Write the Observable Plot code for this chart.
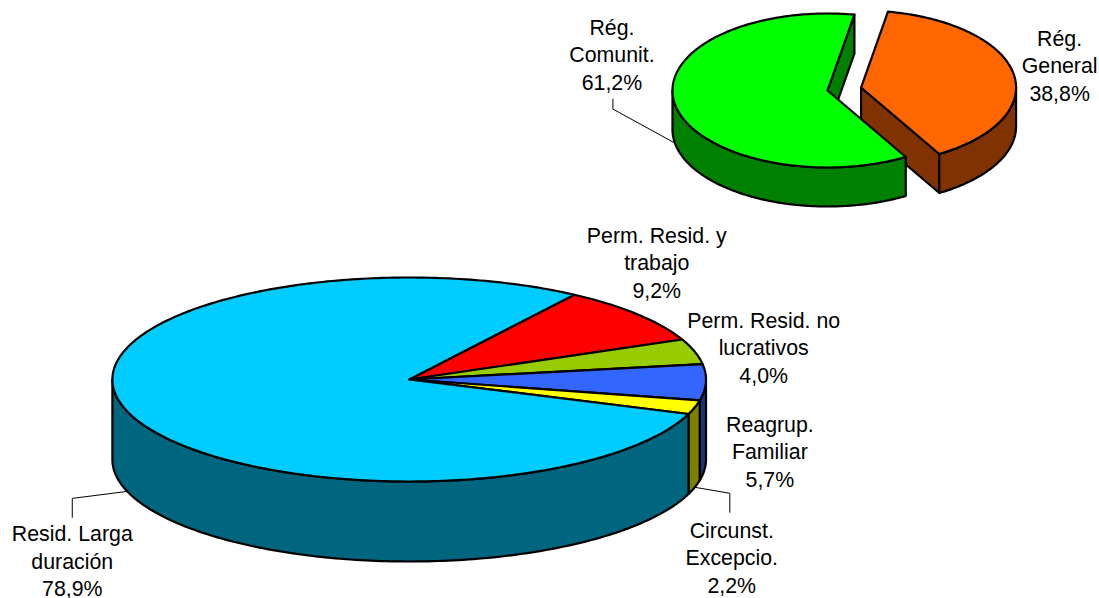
<!DOCTYPE html>
<html>
<head>
<meta charset="utf-8">
<script src="https://cdn.jsdelivr.net/npm/d3@7"></script>
<script src="https://cdn.jsdelivr.net/npm/@observablehq/plot@0.6"></script>
<style>html,body{margin:0;padding:0;background:#fff}svg{display:block}</style>
</head>
<body>
<div id="chart"></div>
<script>
// Lower pie (values in %, clockwise from its start angle)
const lowerLabels = ["Perm. Resid. y\ntrabajo", "Perm. Resid. no\nlucrativos", "Reagrup.\nFamiliar", "Circunst.\nExcepcio.", "Resid. Larga\nduración"];
const lowerValues = [9.2, 4.0, 5.7, 2.2, 78.9];
const lowerTops = ["#FF0000", "#99CC00", "#3366FF", "#FFFF00", "#00CCFF"];
const lowerSides = ["#800000", "#4C6600", "#1A3380", "#808000", "#006680"];
const lowerLabelShift = [[19, -53], [69, -5], [64, 68], [37, 149], [-55, 148.5]];
// Upper pie
const upperLabels = ["Rég.\nGeneral", "Rég.\nComunit."];
const upperValues = [38.8, 61.2];
const upperTops = ["#FF6600", "#00FF00"];
const upperSides = ["#803300", "#008000"];
const upperExplode = [0.22, 0];
const upperLabelShift = [[46, -9.5], [-63, -50.5]];

const lowerPie = {cx: 408.7, cy: 379, rx: 296.8, ry: 102, depth: 80, start: 33.8};
const upperPie = {cx: 827, cy: 90, rx: 155, ry: 77, depth: 39, start: 10};

const fmt = v => v.toFixed(1).replace(".", ",") + "%";

function slices(pie, labels, values, tops, sides, shifts, explode) {
  let a = pie.start;
  return values.map((v, i) => {
    const a0 = a, a1 = a + v * 3.6; a = a1;
    const mid = (a0 + a1) / 2, mr = mid * Math.PI / 180;
    const e = explode ? explode[i] : 0;
    const cx = pie.cx + e * pie.rx * Math.sin(mr);
    const cy = pie.cy - e * pie.ry * Math.cos(mr);
    const rim = d => {
      const r = d * Math.PI / 180;
      return [cx + pie.rx * Math.sin(r), cy - pie.ry * Math.cos(r)];
    };
    return {i, a0, a1, mid, cx, cy, rim, depth: pie.depth, label: labels[i], value: v, top: tops[i], side: sides[i], shift: shifts[i]};
  });
}
const arc = (s, a0, a1) => {
  const n = Math.max(2, Math.ceil(Math.abs(a1 - a0)));
  return d3.range(n + 1).map(k => s.rim(a0 + (a1 - a0) * k / n));
};
const down = (pts, h) => pts.map(([x, y]) => [x, y + h]);

let polyId = 0;
const rows = [];
function addPoly(pts, fill) {
  const id = polyId++;
  [...pts, pts[0]].forEach(([x, y]) => rows.push({id, x, y, fill}));
}
function addCut(s) {
  // the radial face at the clockwise end of a slice looks at the viewer in a separated pie
  const apex = [s.cx, s.cy], p = s.rim(s.a1);
  addPoly([apex, p, [p[0], p[1] + s.depth], [apex[0], apex[1] + s.depth]], s.side);
}
function addWall(s) {
  // front wall: only the part of the rim in the front half (90..270 clockwise from top)
  const lo = Math.max(s.a0, 90), hi = Math.min(s.a1, 270);
  if (hi > lo) {
    const t = arc(s, lo, hi);
    addPoly([...t, ...down(t, s.depth).reverse()], s.side);
  }
}
function addTop(s) {
  addPoly([[s.cx, s.cy], ...arc(s, s.a0, s.a1)], s.top);
}

const lower = slices(lowerPie, lowerLabels, lowerValues, lowerTops, lowerSides, lowerLabelShift);
const upper = slices(upperPie, upperLabels, upperValues, upperTops, upperSides, upperLabelShift, upperExplode);

upper.forEach(s => { addCut(s); addWall(s); addTop(s); });
lower.forEach(addWall);
lower.forEach(addTop);

const labelRows = [...lower, ...upper].map(s => {
  const [x, y] = s.rim(s.mid);
  return {x: x + s.shift[0], y: y + s.shift[1], text: s.label + "\n" + fmt(s.value)};
});

// Leader lines start on the slice's mid-angle at the bottom of its wall
function leader(s, elbowDx, elbowDy, endDy) {
  const [x, y0] = s.rim(s.mid);
  const y = y0 + s.depth, lx = x + s.shift[0] + elbowDx, id = s.label;
  return [{x, y, id}, {x: lx, y: y + elbowDy, id}, {x: lx, y: y + elbowDy + endDy, id}];
}
const leaders = [
  ...leader(lower[3], -2, 6, 19),
  ...leader(lower[4], 0, 7, 19),
  ...leader(upper[1], 1, -34, -10)
];

const plot = Plot.plot({
  width: 1099, height: 598,
  margin: 0,
  x: {domain: [0, 1099], range: [0, 1099], axis: null},
  y: {domain: [0, 598], range: [0, 598], axis: null},
  marks: [
    Plot.line(leaders, {x: "x", y: "y", z: "id", stroke: "#000", strokeWidth: 1}),
    Plot.line(rows, {x: "x", y: "y", z: "id", fill: "fill", stroke: "#000", strokeWidth: 2.2, strokeLinejoin: "round"}),
    Plot.text(labelRows, {x: "x", y: "y", text: "text", textAnchor: "middle", lineAnchor: "middle", lineHeight: 1.29, fontFamily: "Liberation Sans, Arial, sans-serif", fontSize: 21.33, fill: "#000"})
  ]
});
document.getElementById("chart").appendChild(plot);
</script>
</body>
</html>
